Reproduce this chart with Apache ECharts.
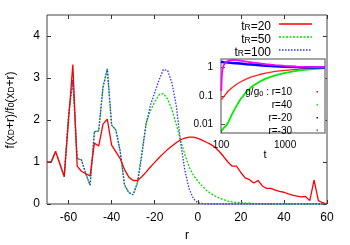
<!DOCTYPE html>
<html><head><meta charset="utf-8">
<script src="https://cdn.jsdelivr.net/npm/echarts@6/dist/echarts.min.js"></script>
<style>html,body{margin:0;padding:0;background:#fff}#c{width:350px;height:245px}</style>
</head><body><div id="c"></div>
<script>
// ---- main chart data ----
var rVals = [-70,-68,-66,-64,-62,-60,-58,-56,-54,-52,-50,-48,-46,-44,-42,-40,-38,-36,-34,-32,-30,-28,-26,-24,-22,-20,-18,-16,-14,-12,-10,-8,-6,-4,-2,0,2,4,6,8,10,12,14,16,18,20,22,24,26,28,30,32,34,36,38,40,42,44,46,48,50,52,54,56,58,60];
var tR20 = [1.00,1.01,1.25,0.95,0.66,2.00,3.32,0.90,0.78,0.72,0.67,1.45,1.38,1.90,2.02,1.40,1.24,1.08,0.82,0.64,0.56,0.56,0.65,0.76,0.88,0.99,1.10,1.20,1.30,1.38,1.46,1.53,1.57,1.59,1.59,1.56,1.52,1.47,1.42,1.35,1.25,1.13,1.00,0.90,0.90,0.75,0.62,0.58,0.50,0.56,0.43,0.37,0.37,0.33,0.30,0.28,0.24,0.21,0.19,0.17,0.18,0.08,0.57,0.08,0.03,0.00];
var tR50 = [1.00,1.00,1.25,0.95,0.65,2.10,2.95,1.08,1.05,0.72,0.45,1.72,1.74,2.78,3.22,1.88,1.76,1.25,0.45,0.27,0.22,0.52,1.22,1.92,2.22,2.43,2.60,2.63,2.50,2.25,1.90,1.52,1.18,0.88,0.68,0.55,0.43,0.33,0.25,0.19,0.14,0.10,0.07,0.05,0.04,0.03,0.02,0.02,0.01,0.01,0.01,0,0,0,0,0,0,0,0,0,0,0,0,0,0,0];
var tR100 = [1.00,1.00,1.25,0.95,0.65,2.10,2.95,1.08,1.05,0.72,0.45,1.72,1.74,2.78,3.22,1.88,1.76,1.25,0.45,0.27,0.22,0.50,1.15,1.90,2.35,2.65,2.95,3.20,3.18,2.88,2.35,1.48,0.80,0.36,0.12,0.03,0.01,0,0,0,0,0,0,0,0,0,0,0,0,0,0,0,0,0,0,0,0,0,0,0,0,0,0,0,0,0];
var xTicks = [-60,-40,-20,0,20,40,60];
var yTicks = [0,1,2,3,4];

// ---- inset data (g/g0 vs t) ----
var tRed = [102,105,110,120,130,150,175,200,250,300,400,500,700,1000,1500,2000,3000,4200];
var gR10 = [0.075,0.082,0.095,0.12,0.15,0.20,0.26,0.31,0.40,0.47,0.57,0.64,0.73,0.80,0.87,0.91,0.95,0.98];
var tGreen = [103,105,110,120,130,140,150,175,200,250,300,400,500,700,1000,1500,2000,3000,4200];
var gR40 = [0.006,0.007,0.0075,0.009,0.012,0.017,0.024,0.045,0.075,0.14,0.21,0.32,0.41,0.53,0.65,0.76,0.83,0.90,0.95];
var tBlue = [100,110,130,150,200,250,300,400,500,700,1000,1500,2000,3000,4200];
var gRm20 = [1.60,1.55,1.50,1.45,1.38,1.31,1.27,1.21,1.16,1.11,1.07,1.04,1.03,1.01,1.00];
var tMag = [101,102,103,105,110,120,130,150,175,200,250,300,400,500,700,1000,1500,2000,3000,4200];
var gRm30 = [0.15,0.30,0.50,0.80,1.20,1.55,1.75,1.85,1.82,1.75,1.62,1.52,1.40,1.32,1.22,1.14,1.08,1.05,1.03,1.01];
var insetXTicks = [100,1000];
var insetYTicks = [0.01,0.1,1];

function pairs(xs, ys){ return xs.map(function(x,i){ return [x, ys[i]]; }); }

var FONT = 'Liberation Sans, Arial, sans-serif';
var chart = echarts.init(document.getElementById('c'), null, {renderer:'canvas'});

function mainAxisX(pos, labels){
  return {type:'value', gridIndex:0, min:-70, max:60, position:pos,
    axisLine:{show:false, onZero:false}, splitLine:{show:false},
    axisTick:{show:true, inside:true, length:4, customValues:xTicks, lineStyle:{color:'#333', width:1}},
    axisLabel:{show:labels, customValues:xTicks, fontSize:12, color:'#000', margin:8, fontFamily:FONT}};
}
function mainAxisY(pos, labels){
  return {type:'value', gridIndex:0, min:0, max:4.5, position:pos,
    axisLine:{show:false, onZero:false}, splitLine:{show:false},
    axisTick:{show:true, inside:true, length:4, customValues:yTicks, lineStyle:{color:'#333', width:1}},
    axisLabel:{show:labels, customValues:yTicks, fontSize:12, color:'#000', margin:7, fontFamily:FONT}};
}
function fmt(v){ return String(+Number(v).toPrecision(3)); }

var sub = {
  a:{fontSize:12, lineHeight:15, verticalAlign:'bottom', fontFamily:FONT, color:'#000'},
  s:{fontSize:8.5, lineHeight:8, verticalAlign:'bottom', fontFamily:FONT, color:'#000'}
};
var subSmall = {
  a:{fontSize:10, lineHeight:12, verticalAlign:'bottom', fontFamily:FONT, color:'#000'},
  s:{fontSize:7.5, lineHeight:7, verticalAlign:'bottom', fontFamily:FONT, color:'#000'}
};

var legendRows = [
  {txt:'{a|t}{s|R}{a|=20}', y:24, color:'#ff0000', dash:null},
  {txt:'{a|t}{s|R}{a|=50}', y:37, color:'#00dd00', dash:[2,1.5]},
  {txt:'{a|t}{s|R}{a|=100}', y:50, color:'#3030ff', dash:[1.5,1.5]}
];
var insetLeg = [
  {txt:'{a|g/g}{s|0}{a| : r=10}', y:91.5, color:'#ff0000'},
  {txt:'{a|r=40}', y:104.5, color:'#00ee00'},
  {txt:'{a|r=-20}', y:117.5, color:'#0000ff'},
  {txt:'{a|r=-30}', y:130, color:'#ff00ff'}
];

var graphics = [];
legendRows.forEach(function(r){
  graphics.push({type:'text', x:271, y:r.y+1, z:10, style:{text:r.txt, rich:sub, align:'right', verticalAlign:'middle'}});
  graphics.push({type:'line', z:10, shape:{x1:279,y1:r.y,x2:312,y2:r.y}, style:{stroke:r.color, lineWidth:1.3, lineDash:r.dash}});
});
insetLeg.forEach(function(r){
  graphics.push({type:'text', x:292, y:r.y, z:10, style:{text:r.txt, rich:subSmall, align:'right', verticalAlign:'middle'}});
  graphics.push({type:'rect', z:10, shape:{x:316.5,y:r.y-0.5,width:1.5,height:1.5}, style:{fill:r.color}});
});
graphics.push({type:'text', x:9, y:110, rotation:Math.PI/2, z:10,
  style:{text:'{a|f(x}{s|D}{a|+r)/f}{s|0}{a|(x}{s|D}{a|+r)}', rich:sub, align:'center', verticalAlign:'middle'}});
graphics.push({type:'text', x:187, y:236, z:10, style:{text:'r', fontSize:12, fontFamily:FONT, fill:'#000', align:'center', verticalAlign:'middle'}});
graphics.push({type:'text', x:265, y:155, z:10, style:{text:'t', fontSize:11, fontFamily:FONT, fill:'#000', align:'center', verticalAlign:'middle'}});

var option = {
  animation:false,
  backgroundColor:'#fff',
  grid:[
    {left:47, top:15, width:280, height:189, show:true, borderColor:'#444', borderWidth:1, backgroundColor:'transparent'},
    {left:221, top:59, width:104, height:74, show:true, borderColor:'#888', borderWidth:1.5, backgroundColor:'#fff', z:5}
  ],
  xAxis:[
    mainAxisX('bottom', true),
    mainAxisX('top', false),
    {type:'log', logBase:10, gridIndex:1, min:100, max:4200, position:'bottom', z:6,
      axisLine:{show:false, onZero:false}, splitLine:{show:false}, minorTick:{show:false},
      axisTick:{show:true, inside:true, length:4, customValues:insetXTicks, lineStyle:{color:'#555'}},
      axisLabel:{customValues:insetXTicks, fontSize:10, color:'#000', margin:7, fontFamily:FONT, formatter:fmt}}
  ],
  yAxis:[
    mainAxisY('left', true),
    mainAxisY('right', false),
    {type:'log', logBase:10, gridIndex:1, min:0.005, max:2, position:'left', z:6,
      axisLine:{show:false, onZero:false}, splitLine:{show:false}, minorTick:{show:false},
      axisTick:{show:true, inside:true, length:4, customValues:insetYTicks, lineStyle:{color:'#555'}},
      axisLabel:{customValues:insetYTicks, fontSize:10, color:'#000', margin:8, fontFamily:FONT, formatter:fmt}}
  ],
  series:[
    {type:'line', xAxisIndex:0, yAxisIndex:0, data:pairs(rVals,tR20), showSymbol:false, z:3,
      lineStyle:{color:'#ff0000', width:1.3}},
    {type:'line', xAxisIndex:0, yAxisIndex:0, data:pairs(rVals,tR50), showSymbol:false, z:2,
      lineStyle:{color:'#00dd00', width:1.3, type:[2,1.5]}},
    {type:'line', xAxisIndex:0, yAxisIndex:0, data:pairs(rVals,tR100), showSymbol:false, z:2,
      lineStyle:{color:'#3030ff', width:1.3, type:[1.5,1.5]}},
    {type:'line', xAxisIndex:2, yAxisIndex:2, data:pairs(tRed,gR10), showSymbol:false, z:7,
      lineStyle:{color:'#ff2020', width:1.3}},
    {type:'line', xAxisIndex:2, yAxisIndex:2, data:pairs(tGreen,gR40), showSymbol:false, z:7,
      lineStyle:{color:'#00ee00', width:1.8}},
    {type:'line', xAxisIndex:2, yAxisIndex:2, data:pairs(tBlue,gRm20), showSymbol:false, z:7,
      lineStyle:{color:'#0000ff', width:2.5}},
    {type:'line', xAxisIndex:2, yAxisIndex:2, data:pairs(tMag,gRm30), showSymbol:false, z:8,
      lineStyle:{color:'#ff00ff', width:1.8}}
  ],
  graphic:graphics
};
chart.setOption(option);
</script>
</body></html>
